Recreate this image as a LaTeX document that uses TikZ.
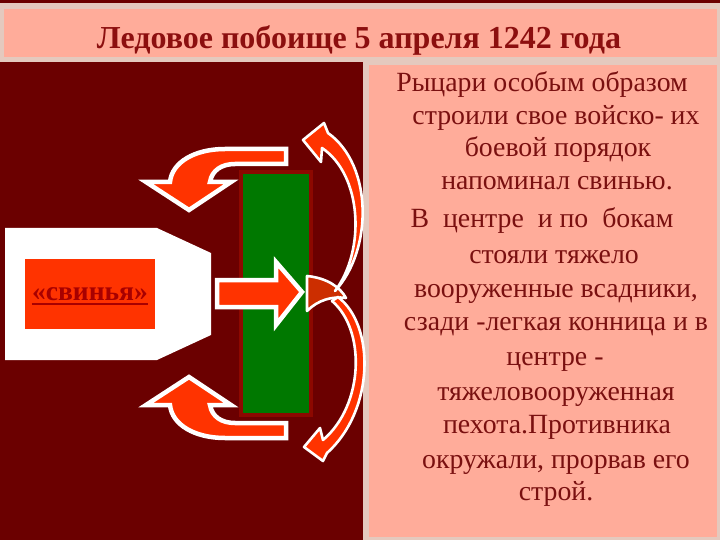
\documentclass[tikz,border=0pt]{standalone}
\usepackage{fontspec}
\setmainfont{Liberation Serif}
\definecolor{darkbg}{HTML}{6B0000}
\definecolor{beige}{HTML}{E4C9BE}
\definecolor{pinkbox}{HTML}{FFAC9A}
\definecolor{titlecol}{HTML}{8C0F0F}
\definecolor{bodycol}{HTML}{7A1010}
\definecolor{orangered}{HTML}{FF3300}
\definecolor{greenblock}{HTML}{007800}
\definecolor{greenedge}{HTML}{8C0800}
\definecolor{crescentcol}{HTML}{CC2E00}
\definecolor{svcol}{HTML}{A80000}
\tikzset{
  bodytxt/.style={anchor=base, inner sep=0pt, text=bodycol, font=\fontsize{27.8}{30}\selectfont},
  bigarrow/.style={fill=orangered, draw=white, line width=4.5pt, line join=miter},
  curvarrow/.style={fill=orangered, draw=white, line width=2.6pt, line join=round},
}
\begin{document}
\begin{tikzpicture}[x=1pt,y=-1pt]
\useasboundingbox (0,0) rectangle (720,540);
% background
\fill[beige] (0,0) rectangle (720,540);
\fill[darkbg] (0,0) rectangle (720,3);
\fill[pinkbox] (4,9) rectangle (717,57);
\fill[darkbg] (0,62) rectangle (363,540);
\fill[pinkbox] (369,65) rectangle (717,537);
% title
\node[anchor=base, inner sep=0pt, text=titlecol, font=\bfseries\fontsize{32}{36}\selectfont] (title) at (359,49) {Ледовое побоище 5 апреля 1242 года};
% pig formation
\fill[white] (5,228) -- (157,228) -- (211,253) -- (211,335) -- (157,360) -- (5,360) -- cycle;
\fill[orangered] (25,259) rectangle (155,329);
\node[anchor=base, inner sep=0pt, text=svcol, font=\bfseries\fontsize{27.5}{30}\selectfont] (svtxt) at (90,300) {«свинья»};
\draw[svcol, line width=1.8pt] ([yshift=-4pt]svtxt.base west) -- ([yshift=-4pt]svtxt.base east);
% green block
\filldraw[fill=greenblock, draw=greenedge, line width=4pt] (241,172) rectangle (311,415);
% straight arrow
\draw[bigarrow] (217,280) -- (276,280) -- (276,262) -- (302,292) -- (276,325) -- (276,307) -- (217,307) -- cycle;
% upper U-turn arrow
\draw[bigarrow] (286,149) -- (225,149) .. controls (195,149) and (172,162) .. (170,182)
  -- (146,182) -- (189,210) -- (231,182) -- (210,182)
  .. controls (212,170) and (222,164) .. (235,164) -- (286,164) -- cycle;
% lower U-turn arrow
\draw[bigarrow] (286,438) -- (225,438) .. controls (195,438) and (172,425) .. (170,405)
  -- (146,405) -- (189,377) -- (231,405) -- (210,405)
  .. controls (212,417) and (222,423) .. (235,423) -- (286,423) -- cycle;
% crescent tail
\draw[fill=crescentcol, draw=white, line width=2.6pt, line join=round] (307,276) .. controls (327,278) and (340,287) .. (346,298) .. controls (332,296) and (318,300) .. (307,311) -- cycle;
% upper curved arrow
\draw[curvarrow] (335,291) .. controls (373,250) and (373,165) .. (328,133)
  -- (324,123) -- (303,140) -- (321,162) -- (322,148)
  .. controls (362,175) and (366,250) .. (335,291) -- cycle;
% lower curved arrow
\draw[curvarrow] (338,297) .. controls (375,325) and (375,410) .. (327,453)
  -- (323,461) -- (304,447) -- (320,428) -- (323,440)
  .. controls (364,405) and (366,330) .. (332,301) -- cycle;
% right text
\node[bodytxt] (l1) at (542,92) {Рыцари особым образом};
\node[bodytxt] (l2) at (556,125) {строили свое войско- их};
\node[bodytxt] (l3) at (558,157) {боевой порядок};
\node[bodytxt] (l4) at (557,190) {напоминал свинью.};
\node[bodytxt] (l5) at (542,227) {В\ \ центре\ \ и по\ \ бокам};
\node[bodytxt] (l6) at (554,263) {стояли тяжело};
\node[bodytxt] (l7) at (556,297) {вооруженные всадники,};
\node[bodytxt] (l8) at (556,330) {сзади -легкая конница и в};
\node[bodytxt] (l9) at (555,365) {центре -};
\node[bodytxt] (l10) at (556,400) {тяжеловооруженная};
\node[bodytxt] (l11) at (557,433) {пехота.Противника};
\node[bodytxt] (l12) at (556,468) {окружали, прорвав его};
\node[bodytxt] (l13) at (556,500) {строй.};
\end{tikzpicture}
\end{document}
